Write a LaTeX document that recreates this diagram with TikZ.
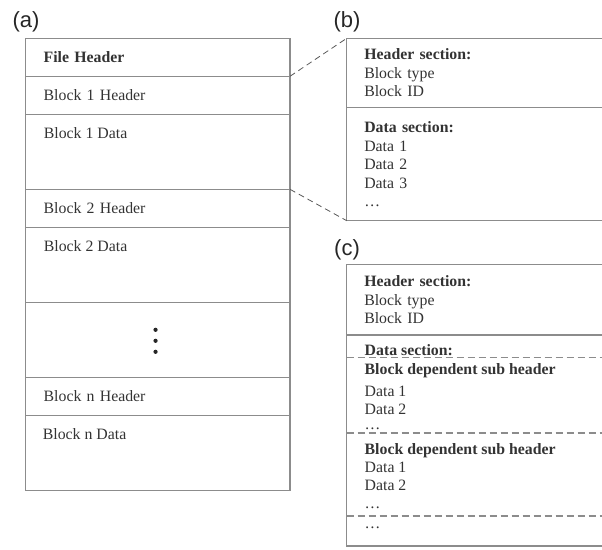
\documentclass[tikz,border=0pt]{standalone}
\usepackage{fontspec}
\setmainfont{Liberation Serif}
\newfontfamily\panelfont{Liberation Sans}
\usetikzlibrary{positioning}

\definecolor{frame}{gray}{0.55}
\definecolor{linkgray}{gray}{0.35}
\definecolor{ink}{gray}{0.2}

\begin{document}
\begin{tikzpicture}[x=1pt, y=-1pt,
  txt/.style={text=ink, inner sep=0pt, font=\fontsize{15.8}{18.5}\selectfont},
  cell/.style={txt, draw=frame, line width=1.1pt, outer sep=0pt,
    inner xsep=18pt, inner ysep=0pt, minimum width=264.3pt,
    text width=228.3pt, align=left},
  hcell/.style={cell, minimum height=38pt},
  dcell/.style={cell, minimum height=75pt},
  sect/.style={cell, minimum width=272pt, inner xsep=17.6pt, text width=236.8pt},
  panel/.style={font=\panelfont\fontsize{22}{26}\selectfont, text=black!85},
  link/.style={draw=linkgray, line width=0.8pt, dash pattern=on 6pt off 4pt},
  sep/.style={draw=frame, line width=1.1pt, dash pattern=on 7pt off 4pt}]

\useasboundingbox (0,0) rectangle (602,549);
\clip (0,0) rectangle (602,549);

% --- (a) file layout ---
\node[panel] (pa) at (26,22) {(a)};
\node[hcell, anchor=north west] (fh) at (25.7,38.3) {\textbf{File Header}};
\node[hcell, below=0pt of fh] (h1) {Block 1 Header};
\node[dcell, below=0pt of h1] (d1) {};
\node[hcell, below=0pt of d1] (h2) {Block 2 Header};
\node[dcell, below=0pt of h2] (d2) {};
\node[dcell, below=0pt of d2] (gap) {};
\node[hcell, below=0pt of gap] (hn) {Block n Header};
\node[dcell, below=0pt of hn] (dn) {};

\node[txt, anchor=west] (d1t) at ([shift={(18,18.5)}]d1.north west) {Block 1 Data};
\node[txt, anchor=west] (d2t) at ([shift={(18,18.5)}]d2.north west) {Block 2 Data};
\node[txt, anchor=west] (dnt) at ([shift={(17,18.5)}]dn.north west) {Block n Data};

\foreach \dy in {-11,0,11}
  \fill[black!85] ([shift={(-2.3,1+\dy)}]gap.center) circle (2.1pt);

% --- (b) one block ---
\node[panel] (pb) at (347,22) {(b)};
\node[sect, anchor=north west, minimum height=69.4pt] (bhead) at (346.7,38.3)
  {\textbf{Header section:}\\Block type\\Block ID};
\node[sect, below=0pt of bhead, minimum height=113pt] (bdata)
  {\textbf{Data section:}\\Data 1\\Data 2\\Data 3\\\dots};

\draw[link] (fh.south east) -- (bhead.north west);
\draw[link] (d1.south east) -- (bdata.south west);

% --- (c) block with sub headers ---
\node[panel] (pc) at (347,250) {(c)};
\node[sect, anchor=north west, minimum height=70.7pt] (chead) at (346.7,264.3)
  {\textbf{Header section:}\\Block type\\Block ID};
\node[sect, below=0pt of chead, minimum height=211pt] (cdata) {};

\foreach \yb/\txt [count=\i] in {355.5/{\textbf{Data section:}},
    374/{\textbf{Block dependent sub header}}, 396/{Data 1}, 414/{Data 2},
    429/{\dots}, 454/{\textbf{Block dependent sub header}}, 472/{Data 1},
    490/{Data 2}, 508/{\dots}, 528/{\dots}}
  \node[txt, anchor=base west] (cl\i) at (364.5,\yb) {\txt};

\foreach \ys in {357.7, 433, 516}
  \draw[sep] (346.7,\ys) -- (620,\ys);

\end{tikzpicture}
\end{document}
